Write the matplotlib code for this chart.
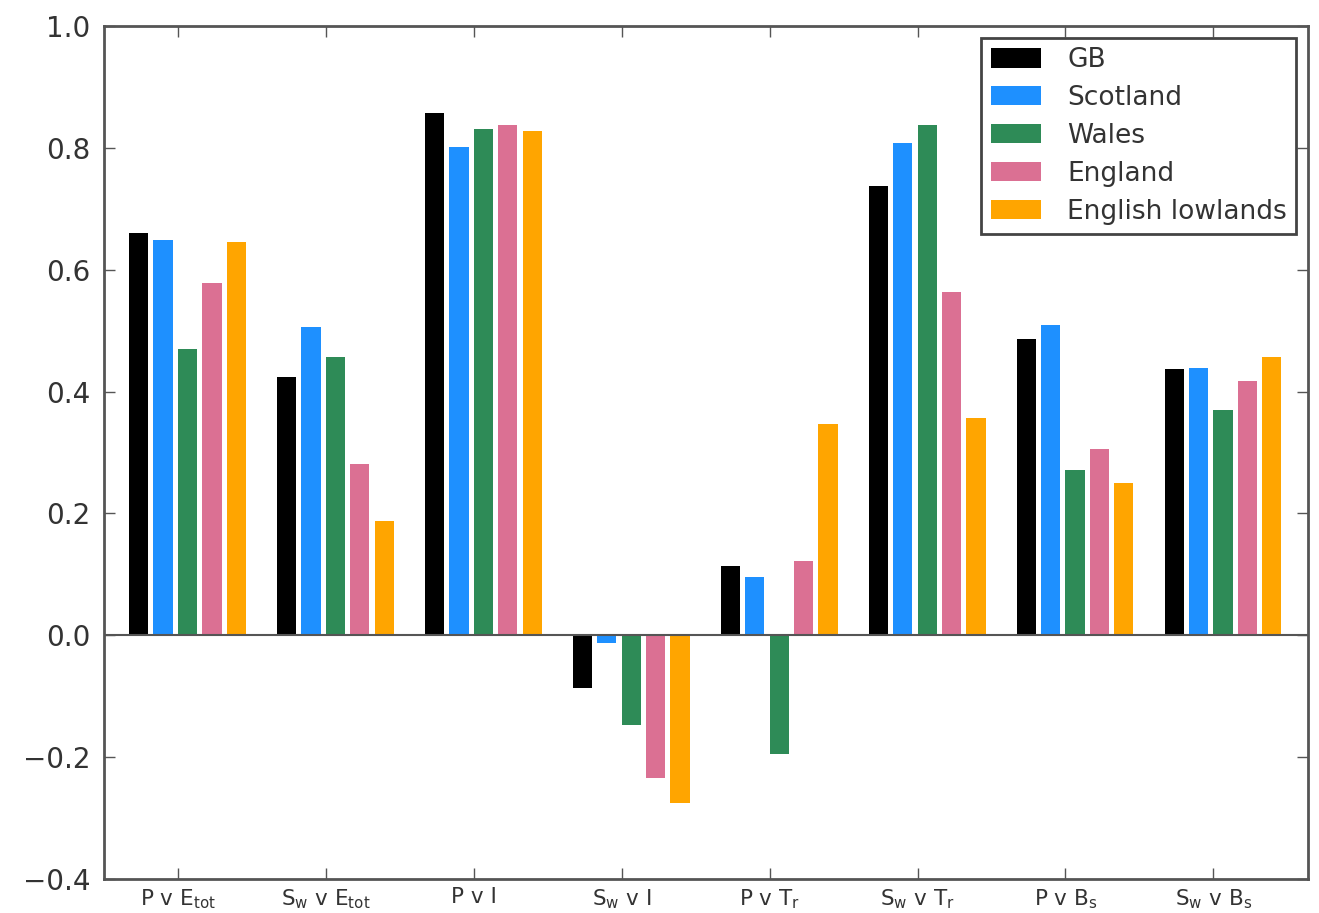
import numpy as np
import matplotlib
matplotlib.use("Agg")
import matplotlib.pyplot as plt

categories = [r"P v E$_{\mathrm{tot}}$", r"S$_{\mathrm{w}}$ v E$_{\mathrm{tot}}$", "P v I",
              r"S$_{\mathrm{w}}$ v I", r"P v T$_{\mathrm{r}}$", r"S$_{\mathrm{w}}$ v T$_{\mathrm{r}}$",
              r"P v B$_{\mathrm{s}}$", r"S$_{\mathrm{w}}$ v B$_{\mathrm{s}}$"]
series_names = ["GB", "Scotland", "Wales", "England", "English lowlands"]
gb        = [0.661, 0.424, 0.858, -0.086, 0.114, 0.738, 0.487, 0.437]
scotland  = [0.649, 0.506, 0.802, -0.012, 0.096, 0.808, 0.510, 0.439]
wales     = [0.470, 0.457, 0.831, -0.147, -0.195, 0.838, 0.271, 0.369]
england   = [0.578, 0.281, 0.837, -0.234, 0.122, 0.564, 0.305, 0.417]
lowlands  = [0.646, 0.188, 0.827, -0.275, 0.347, 0.357, 0.250, 0.457]
colors = ["black", "#1E90FF", "#2E8B57", "#DB7093", "#FFA500"]

plt.rcParams['font.family'] = ['DejaVu Sans']
plt.rcParams['mathtext.default'] = 'regular'

fig = plt.figure(figsize=(13.19, 9.13), dpi=100)
ax = fig.add_axes([0.0788, 0.0372, 0.9129, 0.9343])

ind = np.arange(len(categories))
slot = 0.165
bw = 0.13
for i, (vals, name, c) in enumerate(zip([gb, scotland, wales, england, lowlands], series_names, colors)):
    ax.bar(ind - 2 * slot + i * slot, vals, width=bw, align='edge', color=c, edgecolor='none', label=name)

ax.axhline(0, color='#555555', lw=1.5, zorder=3)
ax.set_xlim(-0.5, 7.64)
ax.set_ylim(-0.4, 1.0)
ax.set_xticks(ind)
ax.set_xticklabels(categories, fontsize=15.5, color='#333333')
ax.set_yticks(np.arange(-0.4, 1.01, 0.2))
ax.yaxis.set_major_formatter(matplotlib.ticker.FuncFormatter(lambda v, p: f"{v:.1f}".replace('-', '\u2212')))
ax.tick_params(axis='y', labelsize=20, colors='#333333', pad=10)
ax.tick_params(direction='in', length=8, width=1, top=True, right=True, color='#555555')
ax.tick_params(axis='x', pad=6)
for s in ax.spines.values():
    s.set_linewidth(2)
    s.set_color('#555555')

leg = ax.legend(loc='upper right', fontsize=19, fancybox=False, framealpha=1,
                edgecolor='#444444', borderpad=0.35, labelspacing=0.45, handlelength=1.9,
                handleheight=0.75, handletextpad=1.0, bbox_to_anchor=(1.0, 1.0), borderaxespad=0.45)
leg.get_frame().set_linewidth(2)
for t in leg.get_texts():
    t.set_color('#333333')

fig.savefig("out.png", dpi=100)
